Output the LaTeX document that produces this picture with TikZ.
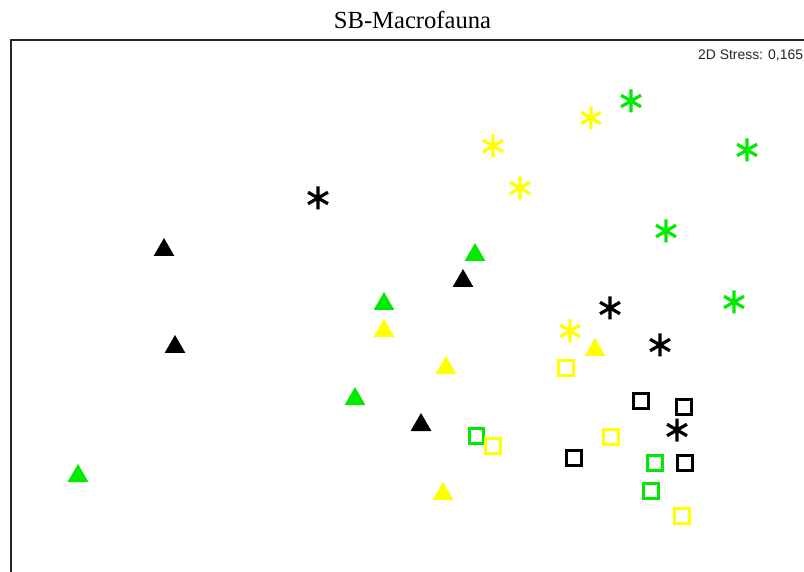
\documentclass[tikz,border=0pt]{standalone}
\usepackage{fontspec}
\setmainfont{Liberation Serif}
\newfontfamily\arialfont{Liberation Sans}
\usetikzlibrary{shapes.geometric}
\definecolor{mgreen}{RGB}{0,235,0}
\definecolor{myellow}{RGB}{255,255,0}
\tikzset{
  tri/.style={regular polygon, regular polygon sides=3, minimum size=24pt, inner sep=0pt, draw=none, fill=#1, yshift=-3pt},
  sq/.style={rectangle, minimum size=14.5pt, inner sep=0pt, draw=#1, line width=3pt},
  ast/.style={minimum size=28pt, inner sep=0pt, draw=none,
    path picture={
      \draw[#1, line width=3.2pt]
        ([shift={(90:11.5pt)}]path picture bounding box.center) -- ([shift={(270:11.5pt)}]path picture bounding box.center)
        ([shift={(30:11.5pt)}]path picture bounding box.center) -- ([shift={(210:11.5pt)}]path picture bounding box.center)
        ([shift={(150:11.5pt)}]path picture bounding box.center) -- ([shift={(330:11.5pt)}]path picture bounding box.center);
    }},
  frame/.style={draw=black!85, line width=1.3pt}
}
\begin{document}
\begin{tikzpicture}[x=1pt,y=-1pt]
\useasboundingbox (0,0) rectangle (804,572);
\fill[white] (0,0) rectangle (804,572);
\node[anchor=base, font=\fontsize{24.6}{28}\selectfont] (title) at (412.5,29) {SB-Macrofauna};
\draw[frame] (11,40) rectangle (830,600);
\node[anchor=base west, inner sep=0pt, text=black!85, font=\arialfont\fontsize{13.9}{17}\selectfont] (stress) at (698,60) {2D Stress: 0,165};
% green asterisks
\node[ast=mgreen] (ga1) at (631,101) {};
\node[ast=mgreen] (ga2) at (747,150) {};
\node[ast=mgreen] (ga3) at (666,231) {};
\node[ast=mgreen] (ga4) at (734,302) {};
% yellow asterisks
\node[ast=myellow] (ya1) at (591,118) {};
\node[ast=myellow] (ya2) at (493,146) {};
\node[ast=myellow] (ya3) at (520,188) {};
\node[ast=myellow] (ya4) at (570,331) {};
% black asterisks
\node[ast=black] (ba1) at (318,198) {};
\node[ast=black] (ba2) at (610,308) {};
\node[ast=black] (ba3) at (660,345) {};
\node[ast=black] (ba4) at (677,430) {};
% black triangles
\node[tri=black] (bt1) at (164,247) {};
\node[tri=black] (bt2) at (175,344) {};
\node[tri=black] (bt3) at (463,278) {};
\node[tri=black] (bt4) at (421,422) {};
% green triangles
\node[tri=mgreen] (gt1) at (475,252) {};
\node[tri=mgreen] (gt2) at (384,301) {};
\node[tri=mgreen] (gt3) at (355,396) {};
\node[tri=mgreen] (gt4) at (78,473) {};
% yellow triangles
\node[tri=myellow] (yt1) at (384,328) {};
\node[tri=myellow] (yt2) at (446,365) {};
\node[tri=myellow] (yt3) at (595,347) {};
\node[tri=myellow] (yt4) at (443,491) {};
% black squares
\node[sq=black] (bs1) at (641,401) {};
\node[sq=black] (bs2) at (684,407) {};
\node[sq=black] (bs3) at (574,458) {};
\node[sq=black] (bs4) at (685,463) {};
% green squares
\node[sq=mgreen] (gs1) at (476.5,436) {};
\node[sq=mgreen] (gs2) at (655,463) {};
\node[sq=mgreen] (gs3) at (651,491) {};
% yellow squares
\node[sq=myellow] (ys1) at (566,368) {};
\node[sq=myellow] (ys2) at (493,446) {};
\node[sq=myellow] (ys3) at (611,437) {};
\node[sq=myellow] (ys4) at (682,516) {};
\end{tikzpicture}
\end{document}
